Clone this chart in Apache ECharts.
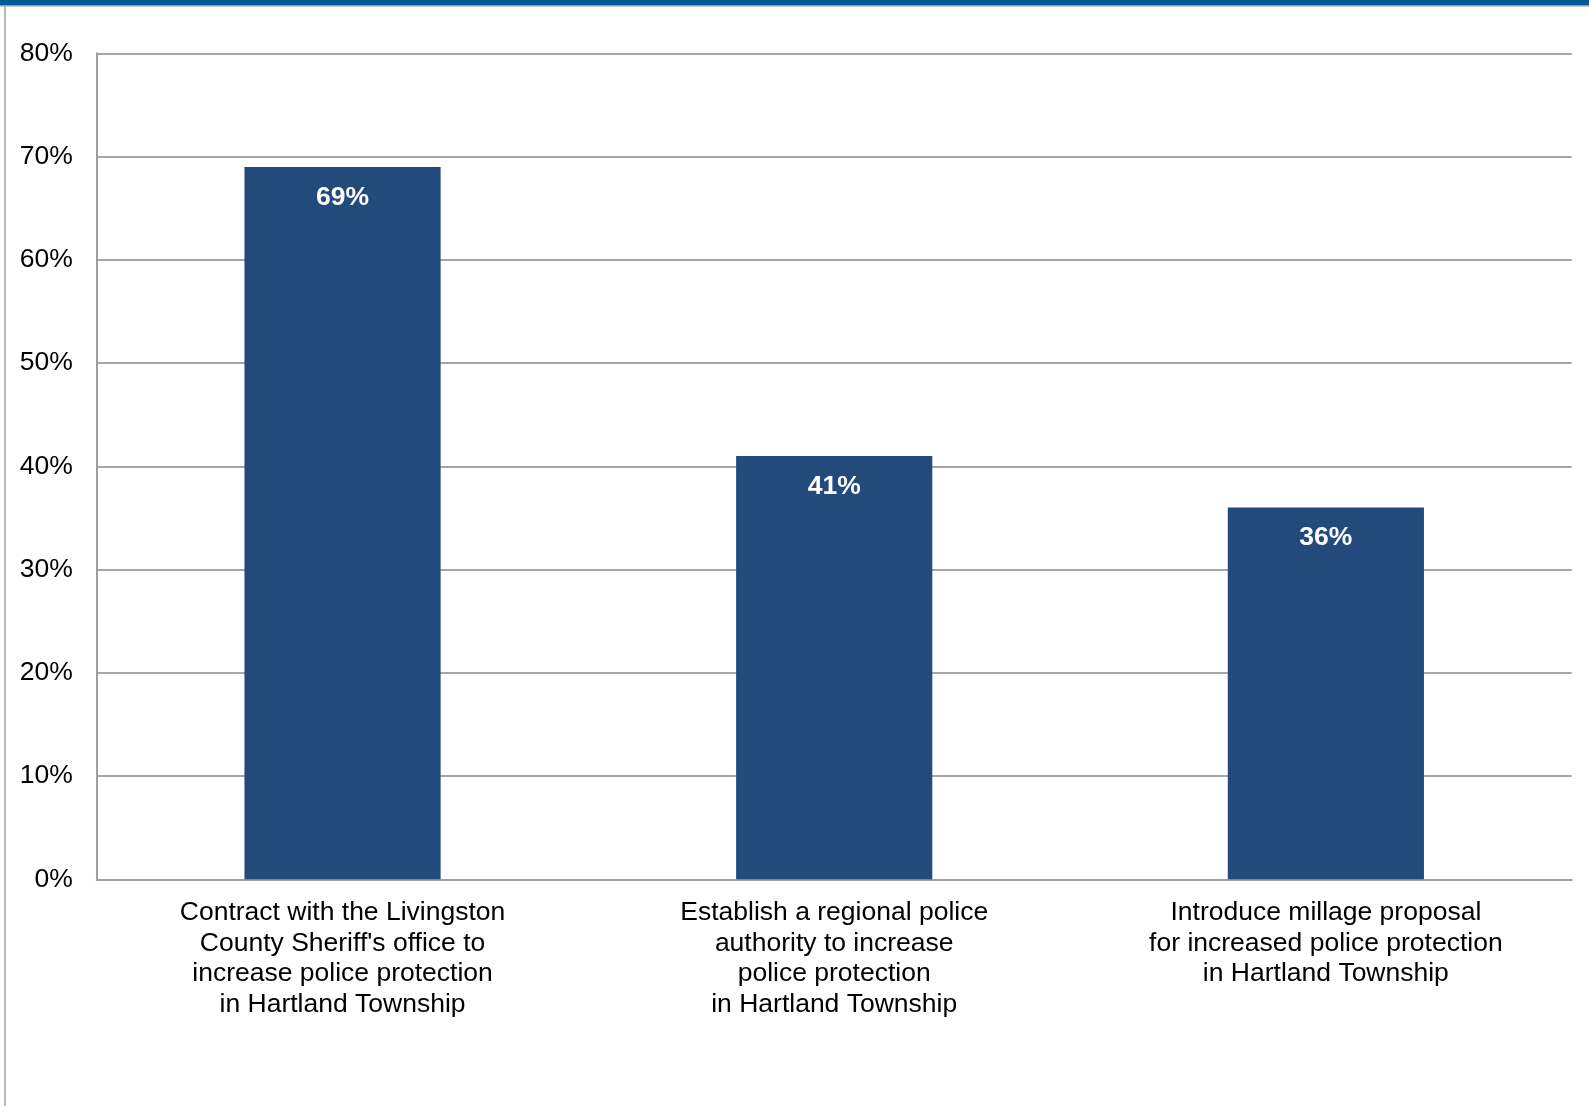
<!DOCTYPE html>
<html>
<head>
<meta charset="utf-8">
<script src="https://cdn.jsdelivr.net/npm/echarts@6/dist/echarts.min.js"></script>
<style>
html,body{margin:0;padding:0;background:#fff;}
#chart{width:1589px;height:1106px;}
</style>
</head>
<body>
<div id="chart"></div>
<script>
const categories = [
  "Contract with the Livingston\nCounty Sheriff's office to\nincrease police protection\nin Hartland Township",
  "Establish a regional police\nauthority to increase\npolice protection\nin Hartland Township",
  "Introduce millage proposal\nfor increased police protection\nin Hartland Township"
];
const values = [69, 41, 36];
const yTicks = { min: 0, max: 80, interval: 10 };

const font = '"Liberation Sans", Arial, sans-serif';
const chart = echarts.init(document.getElementById('chart'), null, {renderer: 'canvas'});
chart.setOption({
  animation: false,
  backgroundColor: '#ffffff',
  graphic: [
    { type: 'rect', shape: { x: 0, y: 0, width: 1589, height: 5 }, style: { fill: '#005a96' } },
    { type: 'rect', shape: { x: 0, y: 5, width: 1589, height: 1.5 }, style: { fill: '#9a9a9a' } },
    { type: 'line', shape: { x1: 5, y1: 6, x2: 5, y2: 1106 }, style: { stroke: '#a0a0a0', lineWidth: 1.5 } }
  ],
  grid: { left: 96.7, right: 17.3, top: 53.3, bottom: 226.7, containLabel: false },
  xAxis: {
    type: 'category',
    data: categories,
    axisLine: { show: true, lineStyle: { color: '#9f9f9f', width: 2 } },
    axisTick: { show: false },
    axisLabel: { color: '#000', fontSize: 26.5, fontFamily: font, lineHeight: 30.7, margin: 18, interval: 0 }
  },
  yAxis: {
    type: 'value',
    min: yTicks.min, max: yTicks.max, interval: yTicks.interval,
    axisLine: { show: true, lineStyle: { color: '#9f9f9f', width: 2 } },
    axisTick: { show: false },
    splitLine: { show: true, lineStyle: { color: '#a6a6a6', width: 2 } },
    axisLabel: { color: '#000', fontSize: 26.5, fontFamily: font, margin: 24, formatter: '{value}%' }
  },
  series: [{
    type: 'bar',
    data: values,
    barWidth: '39.9%',
    itemStyle: { color: '#224a7b' },
    label: {
      show: true, position: 'insideTop', distance: 17,
      formatter: '{c}%', color: '#fff', fontWeight: 'bold', fontSize: 26.5, fontFamily: font
    }
  }]
});
</script>
</body>
</html>
